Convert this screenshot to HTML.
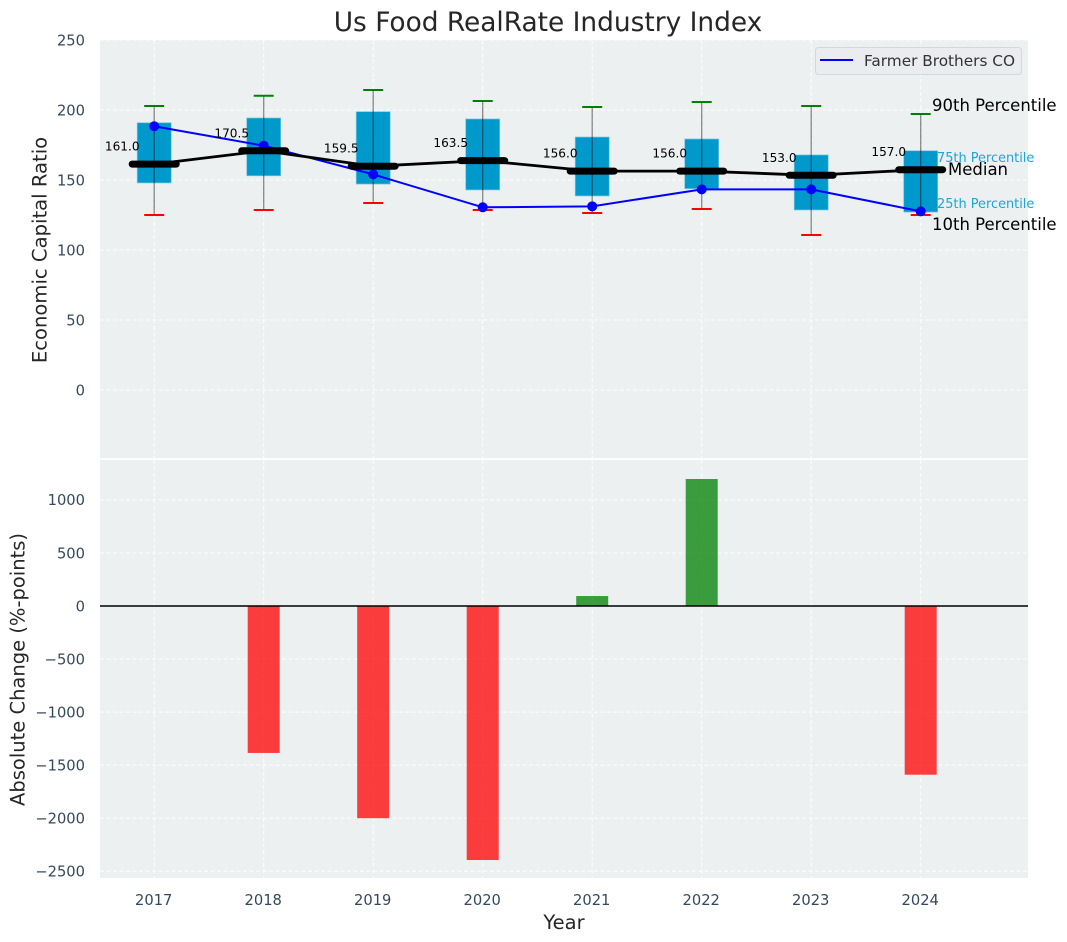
<!DOCTYPE html>
<html>
<head>
<meta charset="utf-8">
<style>
html,body{margin:0;padding:0;background:#fff;width:1067px;height:942px;overflow:hidden}
svg{display:block;font-family:"DejaVu Sans","Liberation Sans",sans-serif}
</style>
</head>
<body>
<svg id="chart" width="1067" height="942" viewBox="0 0 1067 942" xmlns="http://www.w3.org/2000/svg">
  <text x="548" y="31" text-anchor="middle" font-size="26.4" fill="#262626">Us Food RealRate Industry Index</text>
  <rect x="100" y="40" width="928" height="418.2" fill="#ecf0f1"/>
  <rect x="100" y="460" width="928" height="418" fill="#ecf0f1"/>
  <g id="grid"></g>
  <g id="boxes"></g>
  <g id="bars"></g>
  <g id="series"></g>
  <g id="medians"></g>
  <g id="ticks"></g>
  <text transform="translate(46.5,250) rotate(-90)" text-anchor="middle" font-size="19.6" fill="#262626">Economic Capital Ratio</text>
  <text transform="translate(24.5,669.5) rotate(-90)" text-anchor="middle" font-size="19.5" fill="#262626">Absolute Change (%-points)</text>
  <text x="564" y="929" text-anchor="middle" font-size="19.5" fill="#262626">Year</text>
  <g>
    <rect x="815.5" y="47.5" width="206" height="27" rx="3" fill="#ebecf0" stroke="#d6d7da" stroke-width="1"/>
    <line x1="820" x2="853" y1="60" y2="60" stroke="#0000ff" stroke-width="2"/>
    <text x="864" y="66" font-size="15.3" fill="#333">Farmer Brothers CO</text>
  </g>
  <g>
    <text x="932" y="111" font-size="16.5" fill="#000">90th Percentile</text>
    <text x="937" y="162" font-size="12.9" fill="#1ea5d6">75th Percentile</text>
    <text x="948" y="175" font-size="16.5" fill="#000">Median</text>
    <text x="937" y="208" font-size="12.9" fill="#1ea5d6">25th Percentile</text>
    <text x="932" y="230" font-size="16.5" fill="#000">10th Percentile</text>
  </g>
</svg>
<script>
const years = [2017, 2018, 2019, 2020, 2021, 2022, 2023, 2024];
const p10Values = [125, 128.6, 133.6, 128.6, 126.4, 129.3, 110.7, 125];
const p25Values = [147.9, 153, 147.1, 142.9, 138.6, 143.8, 128.6, 127.1];
const medianValues = [161, 170.5, 159.5, 163.5, 156, 156, 153, 157];
const p75Values = [190.9, 194.3, 198.8, 193.6, 180.7, 179.3, 167.9, 170.9];
const p90Values = [202.9, 210.2, 214.3, 206.4, 202.1, 205.7, 202.9, 197.1];
const companyValues = [188.4, 174.5, 154, 130.5, 131.2, 143.3, 143.3, 127.6];
const changeValues = [0, -1385, -2000, -2394, 94, 1197, 0, -1590];
const topTicks = [0, 50, 100, 150, 200, 250];
const bottomTicks = [-2500, -2000, -1500, -1000, -500, 0, 500, 1000];

const NS = 'http://www.w3.org/2000/svg';
function make(parent, tag, attrs, text) {
  const el = document.createElementNS(NS, tag);
  for (const k in attrs) el.setAttribute(k, attrs[k]);
  if (text !== undefined) el.textContent = text;
  parent.appendChild(el);
  return el;
}
function xScale(v) { return 154.2 + (v - 2017) * 109.5; }
function yTop(v) { return 390 - v * 1.4; }
function yBottom(v) { return 606 - v * 0.1061; }
function fmt(v) { return String(v).replace('-', '\u2212'); }

const gridG = document.getElementById('grid');
const boxG = document.getElementById('boxes');
const barG = document.getElementById('bars');
const seriesG = document.getElementById('series');
const medG = document.getElementById('medians');
const tickG = document.getElementById('ticks');
const gridStyle = { stroke: '#ffffff', 'stroke-width': 1, 'stroke-dasharray': '4 2.5', opacity: 0.9 };

years.forEach(function (yr) {
  const x = xScale(yr);
  const g1 = make(gridG, 'line', Object.assign({ x1: x, x2: x, y1: 40, y2: 458 }, gridStyle));
  
  
  const g2 = make(gridG, 'line', Object.assign({ x1: x, x2: x, y1: 460, y2: 878 }, gridStyle));
  
  
  const t = make(tickG, 'text', { x: x - 0.5, y: 905, 'text-anchor': 'middle', 'font-size': 14.7, fill: '#34495e' }, String(yr));
  
  
});

topTicks.forEach(function (v) {
  const y = yTop(v);
  const l = make(gridG, 'line', Object.assign({ x1: 100, x2: 1028, y1: y, y2: y }, gridStyle));
  
  
  const t = make(tickG, 'text', { x: 85, y: y + 5.3, 'text-anchor': 'end', 'font-size': 14.7, fill: '#34495e' }, fmt(v));
  
  
});

bottomTicks.forEach(function (v) {
  const y = yBottom(v);
  const l = make(gridG, 'line', Object.assign({ x1: 100, x2: 1028, y1: y, y2: y }, gridStyle));
  
  
  const t = make(tickG, 'text', { x: 85, y: y + 5.3, 'text-anchor': 'end', 'font-size': 14.7, fill: '#34495e' }, fmt(v));
  
  
});

years.forEach(function (yr, i) {
  const x = xScale(yr);
  const top = yTop(p75Values[i]);
  const box = make(boxG, 'rect', { x: x - 17, y: top, width: 34, height: yTop(p25Values[i]) - top, fill: '#0099cc', stroke: '#7cc6e0', 'stroke-width': 0.7 });
  
  
  const w = make(boxG, 'line', { x1: x, x2: x, y1: yTop(p90Values[i]), y2: yTop(p10Values[i]), stroke: '#000', 'stroke-opacity': 0.45, 'stroke-width': 1.3 });
  
  
  const c1 = make(boxG, 'line', { x1: x - 10, x2: x + 10, y1: yTop(p90Values[i]), y2: yTop(p90Values[i]), stroke: '#008000', 'stroke-width': 2 });
  
  
  const c2 = make(boxG, 'line', { x1: x - 10, x2: x + 10, y1: yTop(p10Values[i]), y2: yTop(p10Values[i]), stroke: '#ff0000', 'stroke-width': 2 });
  
  

  const v = changeValues[i];
  if (v !== 0) {
    const y0 = yBottom(0), y1 = yBottom(v);
    const b = make(barG, 'rect', { x: x - 16, y: Math.min(y0, y1), width: 32, height: Math.abs(y1 - y0), fill: v < 0 ? '#ff0000' : '#008000', 'fill-opacity': 0.75 });
    
    
  }
});

const zero = make(barG, 'line', { x1: 100, x2: 1028, y1: yBottom(0), y2: yBottom(0), stroke: '#000', 'stroke-width': 1.6 });



const companyLine = make(seriesG, 'polyline', { points: years.map(function (yr, i) { return xScale(yr) + ',' + yTop(companyValues[i]); }).join(' '), fill: 'none', stroke: '#0000ff', 'stroke-width': 2 });


years.forEach(function (yr, i) {
  const d = make(seriesG, 'circle', { cx: xScale(yr), cy: yTop(companyValues[i]), r: 5, fill: '#0000ff' });
  
  
});

const medianLine = make(medG, 'polyline', { points: years.map(function (yr, i) { return xScale(yr) + ',' + (yTop(medianValues[i]) - 0.5); }).join(' '), fill: 'none', stroke: '#000', 'stroke-width': 2.8 });


years.forEach(function (yr, i) {
  const x = xScale(yr), y = yTop(medianValues[i]) - 0.5;
  const m = make(medG, 'line', { x1: x - 22, x2: x + 22, y1: y, y2: y, stroke: '#000', 'stroke-width': 7, 'stroke-linecap': 'round' });
  
  
  const t = make(medG, 'text', { x: x - 49.3, y: y - 13.5, 'font-size': 12.1, fill: '#000' }, medianValues[i].toFixed(1));
  
  
});
</script>
</body>
</html>
